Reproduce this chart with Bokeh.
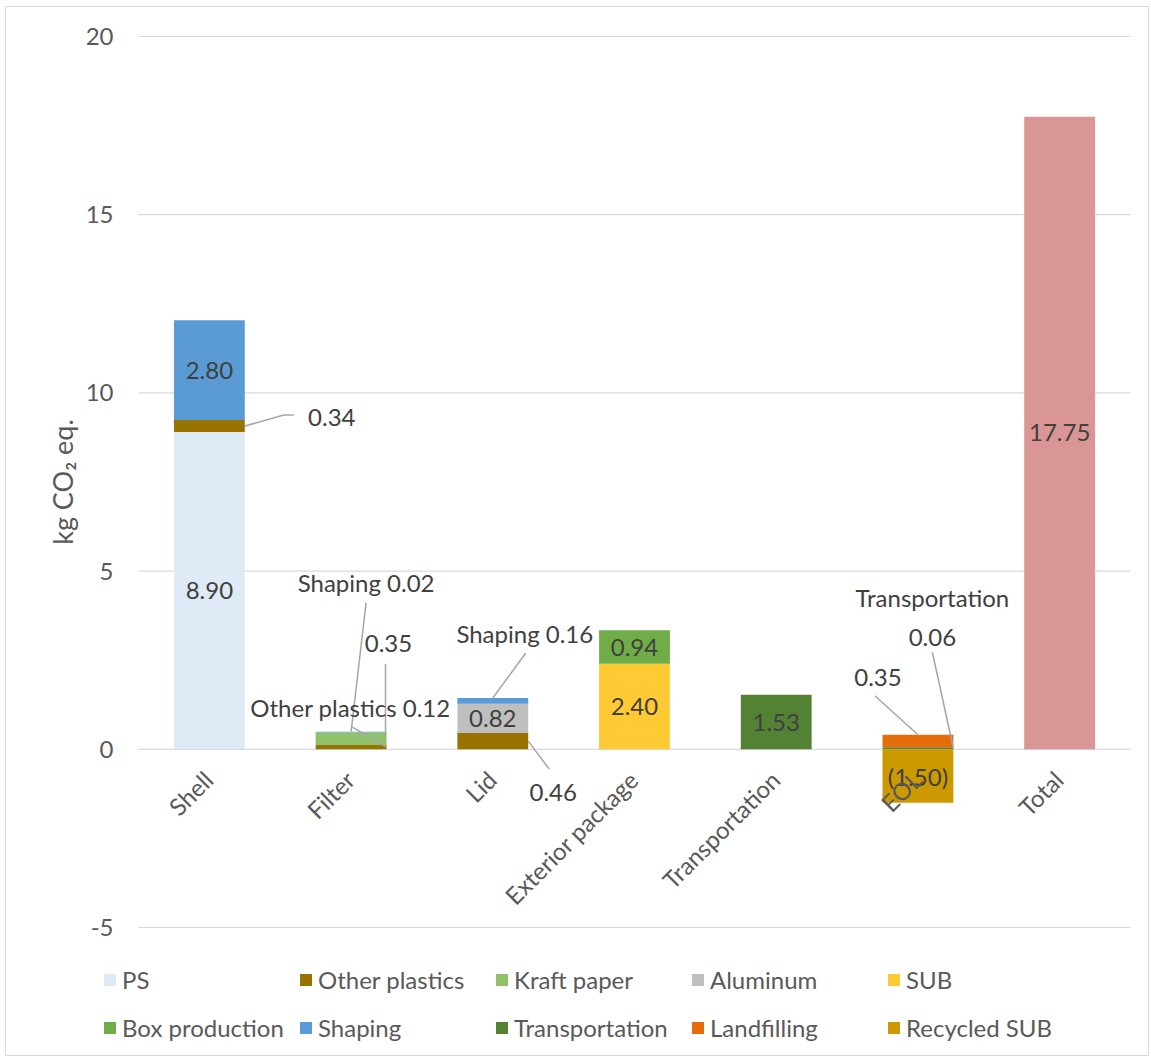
import math
from bokeh.plotting import figure
from bokeh.models import Range1d, Legend, LegendItem, ColumnDataSource
from bokeh.core.properties import value
from bokeh.embed import file_html
from bokeh.resources import INLINE

# ---------------- data ----------------
categories = ["Shell", "Filter", "Lid", "Exterior package", "Transportation", "EOL", "Total"]

series_names = ["PS", "Other plastics", "Kraft paper", "Aluminum", "SUB",
                "Box production", "Shaping", "Transportation", "Landfilling", "Recycled SUB"]

ps             = [8.90, 0.00, 0.00, 0.00, 0.00, 0.00, 0.00]
other_plastics = [0.34, 0.12, 0.46, 0.00, 0.00, 0.00, 0.00]
kraft_paper    = [0.00, 0.35, 0.00, 0.00, 0.00, 0.00, 0.00]
aluminum       = [0.00, 0.00, 0.82, 0.00, 0.00, 0.00, 0.00]
sub            = [0.00, 0.00, 0.00, 2.40, 0.00, 0.00, 0.00]
box_production = [0.00, 0.00, 0.00, 0.94, 0.00, 0.00, 0.00]
shaping        = [2.80, 0.02, 0.16, 0.00, 0.00, 0.00, 0.00]
transportation = [0.00, 0.00, 0.00, 0.00, 1.53, 0.06, 0.00]
landfilling    = [0.00, 0.00, 0.00, 0.00, 0.00, 0.35, 0.00]
recycled_sub   = [0.00, 0.00, 0.00, 0.00, 0.00, -1.50, 0.00]
total          = [0.00, 0.00, 0.00, 0.00, 0.00, 0.00, 17.75]

y_ticks = [-5, 0, 5, 10, 15, 20]
y_tick_labels = ["-5", "0", "5", "10", "15", "20"]
y_label = "kg CO\u2082 eq."

series_values = [ps, other_plastics, kraft_paper, aluminum, sub,
                 box_production, shaping, transportation, landfilling, recycled_sub]

# ---------------- style / layout ----------------
colors = ["#DEEBF7", "#997300", "#8FC16A", "#BFBFBF", "#FFCA33",
          "#70AD47", "#5B9BD5", "#548235", "#E46C0A", "#CC9900"]
total_color = "#D99694"
FONT = "Lato"
FS = "24px"
TXT = "#595959"
LBL = "#404040"
GRID = "#D9D9D9"

W, H = 1151, 1059
# outer chart border (frame) in px
FL, FT, FR, FB = 5, 6, 1148, 1055
# plot area in px
PA_L, PA_R, PA_TOP = 138, 1130, 36
N = len(categories)
PX_X = (PA_R - PA_L) / N
PX_Y = 891.0 / 25.0
Y_MAX = 20
ZERO_PY = PA_TOP + Y_MAX * PX_Y
BAR_W = 0.5

def dx(px):   # screen px -> data x
    return (px - PA_L) / PX_X

def dy(py):   # screen py -> data y
    return (ZERO_PY - py) / PX_Y

def fmt(v):
    return "({:.2f})".format(-v) if v < 0 else "{:.2f}".format(v)

p = figure(width=W, height=H, x_range=Range1d(dx(FL), dx(FR)),
           y_range=Range1d(dy(FB), dy(FT)),
           output_backend="svg", toolbar_location=None,
           x_axis_location=None, y_axis_location=None,
           min_border_left=FL, min_border_right=W - FR, min_border_top=FT,
           min_border_bottom=H - FB)
p.grid.visible = False
p.outline_line_color = GRID
p.outline_line_width = 1
p.background_fill_color = "white"
p.border_fill_color = "white"

# gridlines over the plot area
p.segment(x0=0, x1=N, y0=y_ticks, y1=y_ticks, line_color=GRID, line_width=1.2)

# y tick labels
p.text(x=[dx(113)] * len(y_ticks), y=y_ticks, text=y_tick_labels, text_align="right",
       text_baseline="middle", text_font=value(FONT), text_font_size=FS, text_color=TXT)

# y axis title
p.text(x=[dx(62)], y=[(Y_MAX + y_ticks[0]) / 2], text=[y_label], angle=math.pi / 2,
       text_align="center", text_baseline="middle", text_font=value(FONT),
       text_font_size="27px", text_color=TXT)

# ---------------- stacked bars ----------------
pos_base = [0.0] * N
neg_base = [0.0] * N
segments = {}
renderers = []
for s, vals in enumerate(series_values):
    xs, bots, tops = [], [], []
    for i, v in enumerate(vals):
        if v > 0:
            b, t = pos_base[i], pos_base[i] + v
            pos_base[i] = t
        elif v < 0:
            t, b = neg_base[i], neg_base[i] + v
            neg_base[i] = b
        else:
            continue
        segments[(i, s)] = (b, t)
        xs.append(i + 0.5); bots.append(b); tops.append(t)
    src = ColumnDataSource(dict(x=xs, bottom=bots, top=tops))
    r = p.vbar(x="x", bottom="bottom", top="top", width=BAR_W, source=src,
               fill_color=colors[s], line_color=None)
    renderers.append(r)

tx = [i + 0.5 for i, v in enumerate(total) if v != 0]
tt = [v for v in total if v != 0]
p.vbar(x=tx, bottom=0, top=tt, width=BAR_W, fill_color=total_color, line_color=None)

# ---------------- inside labels ----------------
inside = [("Shell", "PS"), ("Shell", "Shaping"), ("Lid", "Aluminum"),
          ("Exterior package", "SUB"), ("Exterior package", "Box production"),
          ("Transportation", "Transportation"), ("EOL", "Recycled SUB")]
ix, iy, itx = [], [], []
for c, sname in inside:
    i = categories.index(c); s = series_names.index(sname)
    b, t = segments[(i, s)]
    ix.append(i + 0.5); iy.append((b + t) / 2); itx.append(fmt(series_values[s][i]))
for i, v in enumerate(total):
    if v != 0:
        ix.append(i + 0.5); iy.append(v / 2); itx.append(fmt(v))
p.text(x=ix, y=iy, text=itx, text_align="center", text_baseline="middle",
       text_font=value(FONT), text_font_size=FS, text_color=LBL)

# ---------------- callout labels with leader lines ----------------
# (category, series, label style, anchor side, label offset px, leader points px)
callouts = [
    ("Shell", "Other plastics", "v", "right", (87, -9), [(0, 0), (39, -11), (49, -11)]),
    ("Filter", "Other plastics", "nv", "right", (-36, -40), [(0, 0), (-34, -20)]),
    ("Filter", "Kraft paper", "v", "right", (2, -95), [(-1, 0), (-1, -75)]),
    ("Filter", "Shaping", "nv", "top", (15, -149), [(0, 0), (15, -129)]),
    ("Lid", "Other plastics", "v", "right", (25, 51), [(0, 0), (21, 28)]),
    ("Lid", "Shaping", "nv", "top", (32, -64), [(0, 0), (33, -45)]),
    ("EOL", "Landfilling", "v", "top", (-40, -57), [(0, 0), (-43, -39)]),
    ("EOL", "Transportation", "n/v", "right", (-21, -131), [(0, 0), (-21, -96)]),
]
cx, cy, cxo, cyo, ctx = [], [], [], [], []
lxs, lys = [], []
for c, sname, style, side, (ox, oy), pts in callouts:
    i = categories.index(c); s = series_names.index(sname)
    b, t = segments[(i, s)]
    v = series_values[s][i]
    if side == "right":
        ax, ay = i + 0.5 + BAR_W / 2, (b + t) / 2
    else:
        ax, ay = i + 0.5, t
    txt = fmt(v)
    if style == "nv":
        txt = sname + " " + txt
    elif style == "n/v":
        txt = sname + "\n" + txt
    cx.append(ax); cy.append(ay); cxo.append(ox); cyo.append(oy); ctx.append(txt)
    lxs.append([ax + ddx / PX_X for ddx, ddy in pts])
    lys.append([ay - ddy / PX_Y for ddx, ddy in pts])
p.multi_line(xs=lxs, ys=lys, line_color="#A6A6A6", line_width=1.5)
p.text(x=cx, y=cy, x_offset=cxo, y_offset=cyo, text=ctx, text_align="center",
       text_baseline="middle", text_font=value(FONT), text_font_size=FS,
       text_color=LBL, text_line_height=1.33)

# ---------------- category labels (rotated) ----------------
p.text(x=[i + 0.5 for i in range(N)], y=[0] * N, text=categories,
       x_offset=-1, y_offset=26, angle=math.pi / 4, text_align="right",
       text_baseline="middle", text_font=value(FONT), text_font_size=FS,
       text_color=TXT)

# ---------------- legend: two rows of five ----------------
def make_legend(idx, loc):
    items = [LegendItem(label=series_names[k], renderers=[renderers[k]]) for k in idx]
    lg = Legend(items=items, location=loc, orientation="horizontal",
                glyph_width=15, glyph_height=15, label_standoff=5, label_width=170,
                spacing=6, padding=0, margin=0, border_line_color=None,
                background_fill_alpha=0, label_text_font=FONT,
                label_text_font_size=FS, label_text_color=TXT)
    p.add_layout(lg, "center")

make_legend([0, 1, 2, 3, 4], (102 - FL, FB - 981 - 13))
make_legend([5, 6, 7, 8, 9], (102 - FL, FB - 1029 - 13))

open("out.html", "w").write(file_html(p, INLINE))
